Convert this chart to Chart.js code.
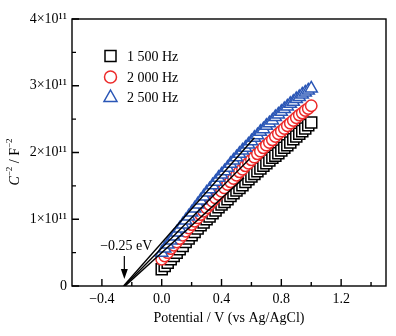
<!DOCTYPE html>
<html>
<head>
<meta charset="utf-8">
<script src="https://cdn.jsdelivr.net/npm/chart.js@4/dist/chart.umd.min.js"></script>
<style>
  body { margin: 0; background: #fff; }
  #wrap { width: 396px; height: 336px; }
</style>
</head>
<body>
<div id="wrap"><canvas id="msChart" width="396" height="336"></canvas></div>
<script>
// Mott-Schottky data, C^-2 in units of 1e11 F^-2
const potential = [0.00, 0.02, 0.04, 0.06, 0.08, 0.10, 0.12, 0.14, 0.16, 0.18,
                   0.20, 0.22, 0.24, 0.26, 0.28, 0.30, 0.32, 0.34, 0.36, 0.38,
                   0.40, 0.42, 0.44, 0.46, 0.48, 0.50, 0.52, 0.54, 0.56, 0.58,
                   0.60, 0.62, 0.64, 0.66, 0.68, 0.70, 0.72, 0.74, 0.76, 0.78,
                   0.80, 0.82, 0.84, 0.86, 0.88, 0.90, 0.92, 0.94, 0.96, 0.98, 1.00];
const c2_1500 = [0.25, 0.30, 0.35, 0.40, 0.45, 0.50, 0.55, 0.60, 0.66, 0.71,
                 0.76, 0.81, 0.86, 0.91, 0.95, 1.00, 1.04, 1.09, 1.13, 1.18,
                 1.22, 1.26, 1.30, 1.35, 1.39, 1.43, 1.47, 1.51, 1.56, 1.60,
                 1.64, 1.68, 1.72, 1.76, 1.80, 1.84, 1.88, 1.92, 1.95, 1.99,
                 2.03, 2.07, 2.11, 2.15, 2.20, 2.24, 2.28, 2.32, 2.36, 2.41, 2.45];
const c2_2000 = [0.40, 0.45, 0.50, 0.56, 0.61, 0.66, 0.71, 0.76, 0.82, 0.87,
                 0.92, 0.97, 1.02, 1.07, 1.12, 1.17, 1.22, 1.27, 1.32, 1.37,
                 1.42, 1.47, 1.52, 1.56, 1.61, 1.66, 1.71, 1.75, 1.80, 1.84,
                 1.89, 1.93, 1.98, 2.02, 2.07, 2.11, 2.15, 2.19, 2.24, 2.28,
                 2.32, 2.36, 2.40, 2.44, 2.48, 2.52, 2.56, 2.59, 2.63, 2.66, 2.70];
const c2_2500 = [0.50, 0.56, 0.62, 0.68, 0.74, 0.80, 0.86, 0.92, 0.98, 1.04,
                 1.10, 1.16, 1.22, 1.28, 1.34, 1.40, 1.45, 1.51, 1.56, 1.62,
                 1.67, 1.72, 1.77, 1.83, 1.88, 1.93, 1.98, 2.03, 2.07, 2.12,
                 2.17, 2.22, 2.26, 2.31, 2.35, 2.40, 2.44, 2.48, 2.53, 2.57,
                 2.61, 2.65, 2.69, 2.73, 2.76, 2.80, 2.83, 2.87, 2.90, 2.93, 2.96];

// linear fits, extrapolated to the x-axis
const fit1500X = [-0.245, 0.55], fit1500Y = [0, 1.62];
const fit2000X = [-0.25, 0.59],  fit2000Y = [0, 1.91];
const fit2500X = [-0.255, 0.62], fit2500Y = [0, 2.22];

const seriesLabels = ["1 500 Hz", "2 000 Hz", "2 500 Hz"];
const xTicks = [-0.4, 0.0, 0.4, 0.8, 1.2];
const xTickLabels = ["\u22120.4", "0.0", "0.4", "0.8", "1.2"];
const xMinor = [-0.2, 0.2, 0.6, 1.0, 1.4];
const yTicks = [0, 1, 2, 3, 4];
const yTickLabels = ["0", "1\u00d710\u00b9\u00b9", "2\u00d710\u00b9\u00b9", "3\u00d710\u00b9\u00b9", "4\u00d710\u00b9\u00b9"];
const yMinor = [0.5, 1.5, 2.5, 3.5];
const flatbandV = -0.25;

const SERIF = "'Liberation Serif', 'Times New Roman', serif";
const RED = "#ec2a2a";
const BLUE = "#2a56b6";

function pts(xs, ys) {
    return xs.map((x, i) => ({ x: x, y: ys[i] }));
}

function fitSet(xs, ys) {
    return {
        type: "line", data: pts(xs, ys), borderColor: "#000", borderWidth: 1.4,
        pointRadius: 0, fill: false
    };
}

function markerSet(label, ys, style, color, r) {
    return {
        label: label, data: pts(potential, ys), showLine: false,
        pointStyle: style, pointRadius: r, pointBackgroundColor: "#fff",
        pointBorderColor: color, pointBorderWidth: 1.5
    };
}

function shape(ctx, style, x, y, color) {
    ctx.save();
    ctx.strokeStyle = color;
    ctx.lineWidth = 1.5;
    ctx.fillStyle = "#fff";
    ctx.beginPath();
    if (style === "rect") {
        ctx.rect(x - 5.5, y - 5.5, 11, 11);
    } else if (style === "circle") {
        ctx.arc(x, y, 6, 0, Math.PI * 2);
    } else {
        ctx.moveTo(x, y - 7);
        ctx.lineTo(x + 6.5, y + 4.5);
        ctx.lineTo(x - 6.5, y + 4.5);
        ctx.closePath();
    }
    ctx.fill();
    ctx.stroke();
    ctx.restore();
}

// frame, inward ticks, legend, titles and the flat-band arrow
const decor = {
    id: "decor",
    afterDraw(chart) {
        const ctx = chart.ctx;
        const { left, right, top, bottom } = chart.chartArea;
        const xs = chart.scales.x, ys = chart.scales.y;
        ctx.save();
        ctx.strokeStyle = "#000";
        ctx.lineWidth = 1.4;
        ctx.strokeRect(left, top, right - left, bottom - top);
        ctx.beginPath();
        xTicks.forEach(v => { const p = xs.getPixelForValue(v); ctx.moveTo(p, bottom); ctx.lineTo(p, bottom - 7); });
        xMinor.forEach(v => { const p = xs.getPixelForValue(v); ctx.moveTo(p, bottom); ctx.lineTo(p, bottom - 4); });
        yTicks.forEach(v => { const p = ys.getPixelForValue(v); ctx.moveTo(left, p); ctx.lineTo(left + 7, p); });
        yMinor.forEach(v => { const p = ys.getPixelForValue(v); ctx.moveTo(left, p); ctx.lineTo(left + 4, p); });
        ctx.stroke();

        // legend
        const styles = ["rect", "circle", "triangle"];
        const colors = ["#000", RED, BLUE];
        const rows = [56, 77, 97];
        ctx.font = "14px " + SERIF;
        ctx.fillStyle = "#000";
        ctx.textBaseline = "middle";
        seriesLabels.forEach((lab, i) => {
            shape(ctx, styles[i], 110.5, rows[i], colors[i]);
            ctx.fillStyle = "#000";
            ctx.fillText(lab, 127, rows[i] + 1);
        });

        // flat-band annotation
        const ax = xs.getPixelForValue(flatbandV);
        ctx.textAlign = "center";
        ctx.fillText("\u22120.25 eV", ax + 2, 246);
        ctx.beginPath();
        ctx.lineWidth = 1.2;
        ctx.moveTo(ax, 256);
        ctx.lineTo(ax, 272);
        ctx.stroke();
        ctx.beginPath();
        ctx.moveTo(ax, 279);
        ctx.lineTo(ax - 3.5, 269);
        ctx.lineTo(ax + 3.5, 269);
        ctx.closePath();
        ctx.fill();

        // x title
        ctx.textAlign = "center";
        ctx.fillText("Potential / V (vs Ag/AgCl)", (left + right) / 2 + 0, 318);

        // y title with italic C and superscripts
        ctx.translate(15, 162);
        ctx.rotate(-Math.PI / 2);
        const parts = [
            { t: "C", f: "italic 14px " + SERIF, dy: 0 },
            { t: "\u22122", f: "9px " + SERIF, dy: -5 },
            { t: " / F", f: "14px " + SERIF, dy: 0 },
            { t: "\u22122", f: "9px " + SERIF, dy: -5 }
        ];
        let w = 0;
        parts.forEach(p => { ctx.font = p.f; w += ctx.measureText(p.t).width; });
        let cx = -w / 2;
        ctx.textAlign = "left";
        parts.forEach(p => {
            ctx.font = p.f;
            ctx.fillText(p.t, cx, p.dy);
            cx += ctx.measureText(p.t).width;
        });
        ctx.restore();
    }
};

Chart.defaults.font.family = SERIF;
Chart.defaults.color = "#000";

new Chart(document.getElementById("msChart"), {
    type: "scatter",
    data: {
        datasets: [
            fitSet(fit2500X, fit2500Y),
            fitSet(fit2000X, fit2000Y),
            fitSet(fit1500X, fit1500Y),
            markerSet(seriesLabels[2], c2_2500, "triangle", BLUE, 7),
            markerSet(seriesLabels[1], c2_2000, "circle", RED, 5.7),
            markerSet(seriesLabels[0], c2_1500, "rect", "#000", 7.8)
        ]
    },
    options: {
        responsive: false,
        animation: false,
        layout: { padding: { left: 0, right: 10, top: 19, bottom: 0 } },
        plugins: { legend: { display: false }, tooltip: { enabled: false } },
        scales: {
            x: {
                type: "linear", min: -0.6, max: 1.5,
                grid: { display: false, drawTicks: false },
                border: { display: false },
                afterBuildTicks: s => { s.ticks = xTicks.map(v => ({ value: v })); },
                afterFit: s => { s.height = 50; },
                ticks: { padding: 5, font: { size: 14 }, callback: (v, i) => xTickLabels[i] }
            },
            y: {
                min: 0, max: 4,
                grid: { display: false, drawTicks: false },
                border: { display: false },
                afterBuildTicks: s => { s.ticks = yTicks.map(v => ({ value: v })); },
                afterFit: s => { s.width = 72; },
                ticks: { padding: 5, font: { size: 14 }, callback: (v, i) => yTickLabels[i] }
            }
        }
    },
    plugins: [decor]
});
</script>
</body>
</html>
